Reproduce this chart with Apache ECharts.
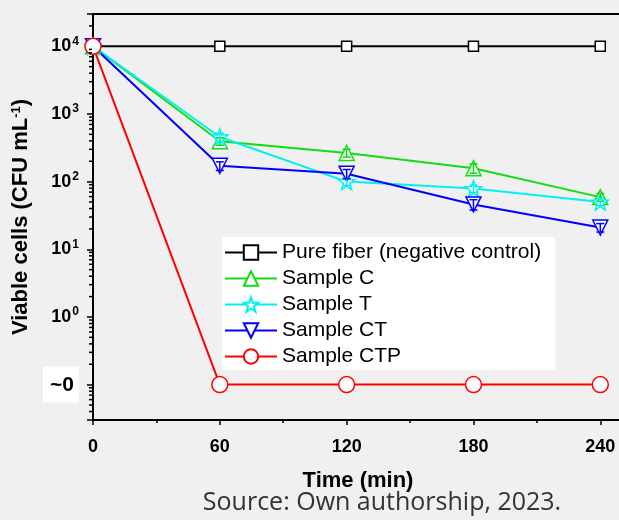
<!DOCTYPE html>
<html>
<head>
<meta charset="utf-8">
<script src="https://cdn.jsdelivr.net/npm/echarts@6/dist/echarts.min.js"></script>
<style>
html,body{margin:0;padding:0;background:#f0f0f0;}
#main{width:619px;height:520px;}
</style>
</head>
<body>
<div id="main"></div>
<script>
// ---- data ----
var times = [0, 60, 120, 180, 240];
var pureFiber = [10000, 10000, 10000, 10000, 10000];
var sampleC   = [10000, 395, 265, 158, 59];
var sampleT   = [10000, 457, 100, 79, 50];
var sampleCT  = [10000, 171, 131, 46, 21];
var sampleCTP = [10000, 0.1, 0.1, 0.1, 0.1];
// approximate error half-widths read from the little bars inside the markers
var errC  = [0, 50, 35, 25, 8];
var errT  = [0, 60, 12, 10, 6];
var errCT = [0, 25, 20, 8, 3];
var seriesNames = ['Pure fiber (negative control)', 'Sample C', 'Sample T', 'Sample CT', 'Sample CTP'];
var xTicks = [0, 60, 120, 180, 240];
// minor log ticks (2..9 x 10^k)
var minorMantissa = [2, 3, 4, 5, 6, 7, 8, 9];
var minorDecades = [-2, -1, 0, 1, 2, 3, 4];

var yMin = 0.03, yMax = 30000;
var xMin = 0, xMax = 255;
var minorVals = [];
minorDecades.forEach(function (k) {
  minorMantissa.forEach(function (m) {
    var v = m * Math.pow(10, k);
    if (v > yMin && v < yMax) minorVals.push(v);
  });
});

function pairs(arr) { return times.map(function (t, i) { return [t, arr[i]]; }); }

var colors = ['#000000', '#11dd11', '#00f0f0', '#0000ff', '#ff0000'];
var starPath = 'path://M0,-10 L2.35,-3.24 L9.51,-3.09 L3.8,1.24 L5.88,8.09 L0,4 L-5.88,8.09 L-3.8,1.24 L-9.51,-3.09 L-2.35,-3.24 Z';

function lineSeries(name, data, color, symbol, size, rotate) {
  return {
    name: name,
    type: 'line',
    data: pairs(data),
    symbol: symbol,
    symbolSize: size,
    symbolRotate: rotate || 0,
    showAllSymbol: true,
    lineStyle: { color: color, width: 2 },
    itemStyle: { color: '#ffffff', borderColor: color, borderWidth: 1.5 },
    emphasis: { disabled: true },
    animation: false,
    z: 3
  };
}

function errSeries(vals, errs, color) {
  var d = [];
  times.forEach(function (t, i) { if (errs[i] > 0) d.push([t, vals[i] - errs[i], vals[i] + errs[i]]); });
  return {
    type: 'custom',
    coordinateSystem: 'cartesian2d',
    data: d,
    encode: { x: 0, y: [1, 2] },
    z: 5,
    silent: true,
    animation: false,
    renderItem: function (params, api) {
      var lo = api.coord([api.value(0), api.value(1)]);
      var hi = api.coord([api.value(0), api.value(2)]);
      var w = 4;
      var st = { stroke: color, lineWidth: 1.5 };
      return { type: 'group', children: [
        { type: 'line', shape: { x1: lo[0], y1: lo[1], x2: hi[0], y2: hi[1] }, style: st },
        { type: 'line', shape: { x1: lo[0] - w, y1: lo[1], x2: lo[0] + w, y2: lo[1] }, style: st },
        { type: 'line', shape: { x1: hi[0] - w, y1: hi[1], x2: hi[0] + w, y2: hi[1] }, style: st }
      ]};
    }
  };
}

var chart = echarts.init(document.getElementById('main'), null, { renderer: 'canvas' });
var font = 'Liberation Sans, Arial, sans-serif';

chart.setOption({
  backgroundColor: '#f0f0f0',
  animation: false,
  grid: { left: 93, top: 14, width: 539, height: 406, show: false, containLabel: false, outerBoundsMode: 'none' },
  xAxis: [{
    type: 'value', min: xMin, max: xMax, interval: 60,
    axisLine: { show: true, lineStyle: { color: '#000', width: 2 } },
    axisTick: { show: true, inside: false, length: 5, lineStyle: { color: '#000', width: 1.5 } },
    minorTick: { show: true, splitNumber: 2, length: 3, lineStyle: { color: '#000', width: 1.5 } },
    splitLine: { show: false },
    axisLabel: {
      margin: 18, color: '#000', fontFamily: font, fontWeight: 'bold', fontSize: 18,
      formatter: function (v) { return xTicks.indexOf(v) >= 0 ? String(v) : ''; }
    }
  }, {
    type: 'value', position: 'top', min: xMin, max: xMax, interval: 60,
    axisLine: { show: true, onZero: false, lineStyle: { color: '#000', width: 2 } },
    axisTick: { show: false }, axisLabel: { show: false }, splitLine: { show: false }
  }],
  yAxis: {
    type: 'log', logBase: 10, min: yMin, max: yMax,
    name: 'Viable cells (CFU mL{sup|-1})',
    nameLocation: 'middle', nameRotate: 90, nameGap: 60,
    nameTextStyle: { color: '#000', fontFamily: font, fontWeight: 'bold', fontSize: 22,
      rich: { sup: { fontFamily: font, fontWeight: 'bold', fontSize: 13, color: '#000', padding: [0, 0, 10, 0] } } },
    axisLine: { show: true, lineStyle: { color: '#000', width: 2 } },
    axisTick: { show: true, inside: false, length: 6, lineStyle: { color: '#000', width: 1.5 } },
    splitLine: { show: false },
    axisLabel: {
      margin: 14,
      formatter: function (v) {
        var e = Math.log(v) / Math.LN10;
        var r = Math.round(e);
        if (Math.abs(e - r) > 0.01) return '';
        if (r === -1) return '{z|~0}';
        return '{b|10}{s|' + r + '}';
      },
      rich: {
        b: { fontFamily: font, fontWeight: 'bold', fontSize: 18, color: '#000' },
        s: { fontFamily: font, fontWeight: 'bold', fontSize: 12, color: '#000', padding: [0, 0, 10, 1] },
        z: { fontFamily: font, fontWeight: 'bold', fontSize: 21, color: '#000', backgroundColor: '#ffffff', padding: [8, 5, 7, 7] }
      }
    }
  },
  legend: {
    data: seriesNames,
    orient: 'vertical',
    left: 222, top: 237,
    padding: [5, 14, 3, 2],
    backgroundColor: '#ffffff',
    itemWidth: 52, itemHeight: 18, itemGap: 5,
    textStyle: { fontFamily: font, fontSize: 21, color: '#000' },
    selectedMode: false
  },
  graphic: [
    { type: 'text', x: 358, y: 481, style: { text: 'Time (min)', font: 'bold 22px ' + font, fill: '#000', textAlign: 'center', textVerticalAlign: 'middle' } },
    { type: 'text', x: 382, y: 503, style: { text: 'Source: Own authorship, 2023.', font: '25px "Open Sans", sans-serif', fill: '#333', textAlign: 'center', textVerticalAlign: 'middle' } }
  ],
  series: [
    {
      type: 'custom', coordinateSystem: 'cartesian2d', silent: true, animation: false, clip: false, z: 6,
      data: minorVals.map(function (v) { return [0, v]; }),
      renderItem: function (params, api) {
        var p = api.coord([0, api.value(1)]);
        return { type: 'line', shape: { x1: p[0] - 4, y1: p[1], x2: p[0] - 1, y2: p[1] }, style: { stroke: '#000', lineWidth: 1.5 } };
      }
    },
    lineSeries(seriesNames[0], pureFiber, colors[0], 'rect', 10),
    lineSeries(seriesNames[1], sampleC, colors[1], 'triangle', 15),
    lineSeries(seriesNames[2], sampleT, colors[2], starPath, 16),
    lineSeries(seriesNames[3], sampleCT, colors[3], 'triangle', 15, 180),
    lineSeries(seriesNames[4], sampleCTP, colors[4], 'circle', 16),
    errSeries(sampleC, errC, colors[1]),
    errSeries(sampleT, errT, colors[2]),
    errSeries(sampleCT, errCT, colors[3])
  ]
});
</script>
</body>
</html>
